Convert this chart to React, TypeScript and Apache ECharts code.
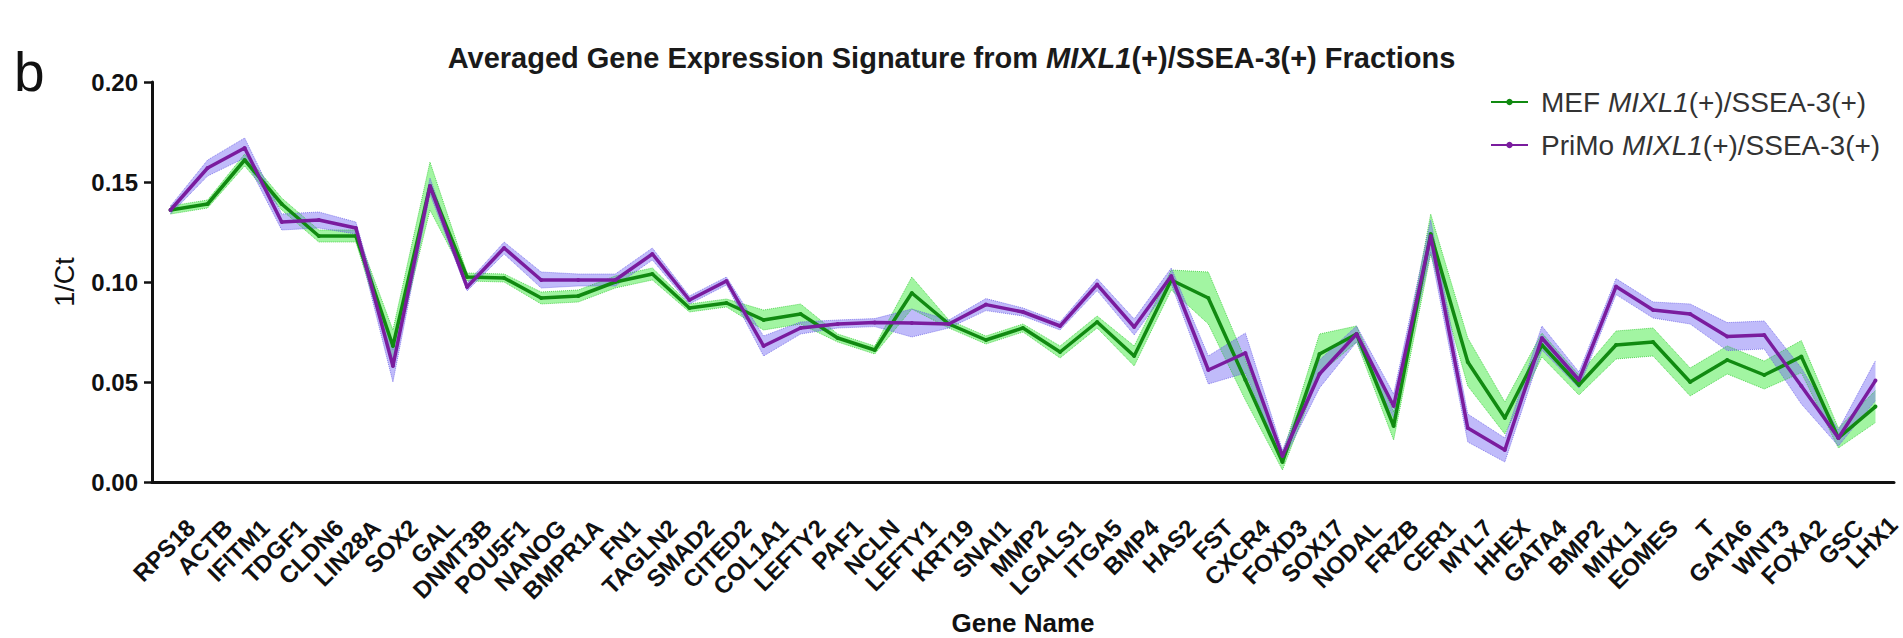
import React, { useEffect, useRef } from "react";
import * as echarts from "echarts";

const genes = [
  "RPS18", "ACTB", "IFITM1", "TDGF1", "CLDN6", "LIN28A", "SOX2", "GAL", "DNMT3B", "POU5F1",
  "NANOG", "BMPR1A", "FN1", "TAGLN2", "SMAD2", "CITED2", "COL1A1", "LEFTY2", "PAF1", "NCLN",
  "LEFTY1", "KRT19", "SNAI1", "MMP2", "LGALS1", "ITGA5", "BMP4", "HAS2", "FST", "CXCR4",
  "FOXD3", "SOX17", "NODAL", "FRZB", "CER1", "MYL7", "HHEX", "GATA4", "BMP2", "MIXL1",
  "EOMES", "T", "GATA6", "WNT3", "FOXA2", "GSC", "LHX1",
];

const mefMean = [
  0.136, 0.139, 0.161, 0.139, 0.123, 0.123, 0.068, 0.148, 0.1025, 0.102,
  0.092, 0.093, 0.100, 0.104, 0.087, 0.0895, 0.081, 0.084, 0.072, 0.066,
  0.0945, 0.079, 0.071, 0.077, 0.065, 0.080, 0.063, 0.101, 0.092, 0.051,
  0.010, 0.064, 0.074, 0.028, 0.124, 0.060, 0.032, 0.0685, 0.0485, 0.0685,
  0.070, 0.050, 0.061, 0.0535, 0.0627, 0.022, 0.0377,
];

const mefErr = [
  0.002, 0.002, 0.003, 0.003, 0.003, 0.003, 0.008, 0.012, 0.002, 0.002,
  0.003, 0.003, 0.003, 0.003, 0.002, 0.002, 0.005, 0.005, 0.002, 0.002,
  0.008, 0.002, 0.002, 0.002, 0.003, 0.003, 0.005, 0.005, 0.013, 0.010,
  0.004, 0.010, 0.004, 0.007, 0.010, 0.012, 0.008, 0.006, 0.005, 0.007,
  0.007, 0.007, 0.007, 0.007, 0.008, 0.005, 0.008,
];

const primoMean = [
  0.136, 0.157, 0.167, 0.130, 0.131, 0.127, 0.058, 0.148, 0.0975, 0.117,
  0.101, 0.101, 0.101, 0.114, 0.091, 0.1005, 0.068, 0.077, 0.079, 0.0797,
  0.0795, 0.079, 0.0887, 0.085, 0.078, 0.0987, 0.0775, 0.103, 0.056, 0.0645,
  0.013, 0.054, 0.074, 0.038, 0.123, 0.027, 0.016, 0.072, 0.051, 0.0977,
  0.086, 0.084, 0.0727, 0.0735, 0.048, 0.022, 0.0507,
];

const primoErr = [
  0.002, 0.004, 0.005, 0.004, 0.004, 0.003, 0.008, 0.004, 0.002, 0.003,
  0.004, 0.003, 0.003, 0.003, 0.002, 0.002, 0.005, 0.003, 0.002, 0.002,
  0.007, 0.002, 0.003, 0.002, 0.002, 0.003, 0.004, 0.004, 0.007, 0.010,
  0.003, 0.007, 0.004, 0.006, 0.008, 0.007, 0.006, 0.006, 0.004, 0.004,
  0.004, 0.005, 0.007, 0.007, 0.009, 0.004, 0.010,
];

const yTicks = [0, 0.05, 0.1, 0.15, 0.2];

const MEF_NAME = "MEF MIXL1(+)/SSEA-3(+)";
const PRIMO_NAME = "PriMo MIXL1(+)/SSEA-3(+)";

const FONT = '"Liberation Sans", Arial, Helvetica, sans-serif';
const GREEN = "#118a11";
const PURPLE = "#7a1c9e";
const GREEN_BAND = "rgba(70, 235, 70, 0.5)";
const PURPLE_BAND = "rgba(115, 105, 245, 0.45)";

function bandSeries(stack: string, mean: number[], err: number[], fill: string, edge: string) {
  const lower = mean.map((v, i) => +(v - err[i]).toFixed(5));
  const width = err.map((e) => +(2 * e).toFixed(5));
  return [
    {
      type: "line",
      name: stack + "-lower",
      stack,
      data: lower,
      symbol: "none",
      silent: true,
      lineStyle: { width: 1, color: edge, type: "dotted" },
      z: 1,
    },
    {
      type: "line",
      name: stack + "-band",
      stack,
      data: width,
      symbol: "none",
      silent: true,
      lineStyle: { width: 1, color: edge, type: "dotted" },
      areaStyle: { color: fill, opacity: 1 },
      z: 1,
    },
  ];
}

export default function App() {
  const ref = useRef<HTMLDivElement>(null);

  useEffect(() => {
    if (!ref.current) return;
    const chart = echarts.init(ref.current, undefined, { renderer: "svg" });
    const labelFont = { fontFamily: FONT, fontSize: 24, fontWeight: "bold", color: "#111111" };
    const option = {
      animation: false,
      backgroundColor: "#ffffff",
      textStyle: { fontFamily: FONT },
      title: {
        text: "Averaged Gene Expression Signature from {i|MIXL1}(+)/SSEA-3(+) Fractions",
        left: "center",
        top: 38,
        textStyle: {
          fontFamily: FONT,
          fontSize: 29,
          fontWeight: "bold",
          color: "#1a1a1a",
          rich: {
            i: { fontFamily: FONT, fontSize: 29, fontWeight: "bold", fontStyle: "italic", color: "#1a1a1a" },
          },
        },
      },
      legend: {
        data: [MEF_NAME, PRIMO_NAME],
        orient: "vertical",
        left: 1485,
        top: 82,
        itemWidth: 37,
        itemHeight: 8,
        itemGap: 13,
        formatter: (name: string) => name.replace("MIXL1", "{i|MIXL1}"),
        textStyle: {
          fontFamily: FONT,
          fontSize: 28,
          color: "#333333",
          lineHeight: 30,
          padding: [0, 0, 0, 8],
          rich: {
            i: { fontFamily: FONT, fontSize: 28, fontStyle: "italic", color: "#333333", lineHeight: 30 },
          },
        },
      },
      graphic: [
        {
          type: "text",
          left: 14,
          top: 44,
          style: { text: "b", fontFamily: FONT, fontSize: 55, fill: "#111111" },
        },
      ],
      grid: { left: 152, right: 9, top: 82, bottom: 156, containLabel: false, outerBoundsMode: "none" },
      xAxis: {
        type: "category",
        data: genes,
        boundaryGap: true,
        name: "Gene Name",
        nameLocation: "middle",
        nameGap: 128,
        nameMoveOverlap: false,
        nameTextStyle: { fontFamily: FONT, fontSize: 26, lineHeight: 26, fontWeight: "bold", color: "#111111" },
        axisLine: { lineStyle: { color: "#111111", width: 3 } },
        axisTick: { alignWithLabel: true, interval: 0, length: 22, lineStyle: { color: "#111111", width: 2.5 } },
        axisLabel: {
          interval: 0,
          rotate: 45,
          margin: 21,
          align: "right",
          verticalAlign: "top",
          lineHeight: 58,
          hideOverlap: false,
          ...labelFont,
          formatter: (value: string, index: number) =>
            index === genes.length - 1 ? `{tight|${value}}` : value,
          rich: {
            tight: { ...labelFont, lineHeight: 50 },
          },
        },
        splitLine: { show: false },
      },
      yAxis: {
        type: "value",
        min: yTicks[0],
        max: yTicks[yTicks.length - 1],
        interval: 0.05,
        name: "1/Ct",
        nameLocation: "middle",
        nameGap: 74,
        nameRotate: 90,
        nameTextStyle: { fontFamily: FONT, fontSize: 27, color: "#111111" },
        axisLine: { show: true, lineStyle: { color: "#111111", width: 3 } },
        axisTick: { show: true, length: 8, lineStyle: { color: "#111111", width: 2.5 } },
        axisLabel: {
          margin: 14,
          fontFamily: FONT,
          fontSize: 24,
          fontWeight: "bold",
          color: "#111111",
          formatter: (v: number) => v.toFixed(2),
        },
        splitLine: { show: false },
      },
      series: [
        ...bandSeries("mef", mefMean, mefErr, GREEN_BAND, "rgba(40,200,40,0.7)"),
        ...bandSeries("primo", primoMean, primoErr, PURPLE_BAND, "rgba(100,90,230,0.7)"),
        {
          type: "line",
          name: MEF_NAME,
          data: mefMean,
          symbol: "circle",
          symbolSize: 4,
          itemStyle: { color: GREEN },
          lineStyle: { color: GREEN, width: 3.5 },
          z: 3,
        },
        {
          type: "line",
          name: PRIMO_NAME,
          data: primoMean,
          symbol: "circle",
          symbolSize: 4,
          itemStyle: { color: PURPLE },
          lineStyle: { color: PURPLE, width: 3.5 },
          z: 4,
        },
      ],
    };
    chart.setOption(option as any);
    return () => chart.dispose();
  }, []);

  return (
    <div
      ref={ref}
      style={{ position: "fixed", left: 0, top: 0, width: 1903, height: 638, background: "#fff" }}
    />
  );
}
